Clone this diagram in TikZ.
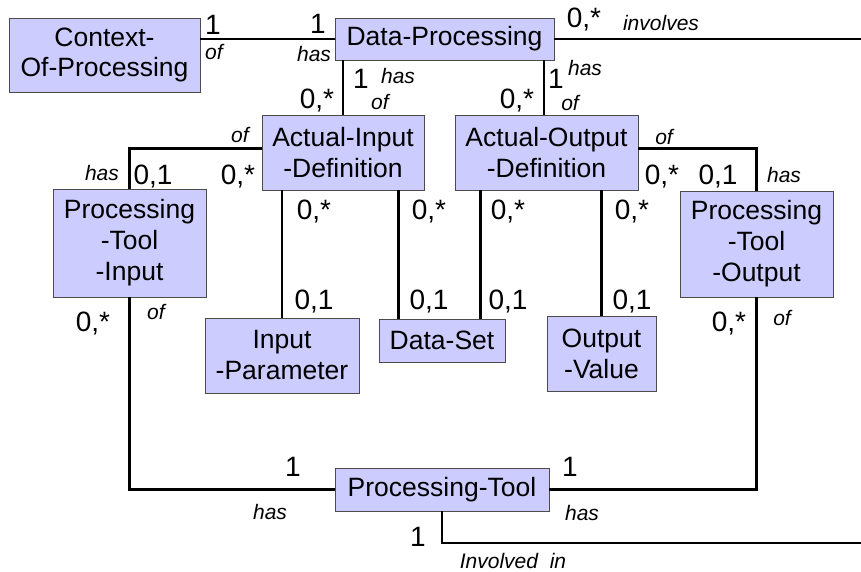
\documentclass[tikz,border=0pt]{standalone}
\usepackage{fontspec}
\setmainfont{Liberation Sans}
\usepackage{tikz}

\begin{document}
\begin{tikzpicture}[x=1pt,y=-1pt,
    entity/.style={draw=black!70,line width=0.8pt,fill=blue!20,inner sep=0pt,align=center,font=\fontsize{26.5}{31}\selectfont},
    link/.style={line width=2.6pt},
    mult/.style={inner sep=0pt,font=\fontsize{28}{30}\selectfont},
    role/.style={inner sep=0pt,font=\fontsize{21}{24}\selectfont\itshape}]
    \useasboundingbox (0,0) rectangle (861,572);
    %% the classes
    \node (cop) at (104.5,55)[entity,minimum width=191pt,minimum height=74pt]{Context-\\Of-Processing};
    \node (dp) at (444.5,39)[entity,minimum width=219pt,minimum height=42pt]{Data-Processing};
    \node (aid) at (343,152.5)[entity,minimum width=162pt,minimum height=75pt]{Actual-Input\\-Definition};
    \node (aod) at (546.5,152.5)[entity,minimum width=183pt,minimum height=75pt]{Actual-Output\\-Definition};
    \node (pti) at (129.5,243)[entity,minimum width=153pt,minimum height=108pt]{Processing\\-Tool\\-Input};
    \node (pto) at (756.5,244)[entity,minimum width=153pt,minimum height=106pt]{Processing\\-Tool\\-Output};
    \node (ip) at (282,355.5)[entity,minimum width=154pt,minimum height=75pt]{Input\\-Parameter};
    \node (ds) at (442,340.5)[entity,minimum width=126pt,minimum height=43pt]{Data-Set};
    \node (ov) at (601.5,353.5)[entity,minimum width=109pt,minimum height=75pt]{Output\\-Value};
    \node (pt) at (442,489.5)[entity,minimum width=214pt,minimum height=43pt]{Processing-Tool};

    %% the associations
    \coordinate (toright) at (861,39);
    \coordinate (tobottom) at (861,543);
    \coordinate (dsl) at ([xshift=20pt]ds.north west);
    \coordinate (dsr) at ([xshift=-25pt]ds.north east);
    \coordinate (aodt) at ([xshift=-2.5pt]aod.north);
    \draw[link] (dp.west) -- (dp.west -| cop.east);
    \draw[link] (dp.east) -- (toright);
    \draw[link] (aid.north) -- (aid.north |- dp.south);
    \draw[link] (aodt) -- (aodt |- dp.south);
    \draw[link] ([yshift=4pt]aid.west) -| (pti.north);
    \draw[link] ([yshift=4pt]aod.east) -| (pto.north);
    \draw[link] (ip.north) -- (ip.north |- aid.south);
    \draw[link] (dsl) -- (dsl |- aid.south);
    \draw[link] (dsr) -- (dsr |- aod.south);
    \draw[link] (ov.north) -- (ov.north |- aod.south);
    \draw[link] (pti.south) |- (pt.west);
    \draw[link] (pto.south) |- (pt.east);
    \draw[link] (pt.south) |- (tobottom);

    %% multiplicities
    \node (m-cop) at (213,25)[mult]{1};
    \node (m-dpl) at (318,24)[mult]{1};
    \node (m-dpr) at (584,20)[mult]{0,*};
    \node (m-dpa) at (361,79)[mult]{1};
    \node (m-aid) at (317,101)[mult]{0,*};
    \node (m-dpo) at (556,79)[mult]{1};
    \node (m-aod) at (517,101)[mult]{0,*};
    \node (m-pti) at (153,177)[mult]{0,1};
    \node (m-aidl) at (238,177)[mult]{0,*};
    \node (m-aodr) at (662,177)[mult]{0,*};
    \node (m-pto) at (718,177)[mult]{0,1};
    \foreach \x/\n in {314/ip,429/dsl,508/dsr,632/ov}{
      \node (m-\n-top) at (\x,212)[mult]{0,*};
      \node (m-\n-bot) at (\x,302)[mult]{0,1};
    }
    \node (m-ptil) at (93,324)[mult]{0,*};
    \node (m-ptor) at (729,324)[mult]{0,*};
    \node (m-ptl) at (293,467)[mult]{1};
    \node (m-ptr) at (570,467)[mult]{1};
    \node (m-ptb) at (418,537)[mult]{1};

    %% role names
    \node (r-cop) at (214,52)[role]{of};
    \node (r-dpl) at (314,54)[role]{has};
    \node (r-dpr) at (661,23)[role]{involves};
    \node (r-dpa) at (398,76)[role]{has};
    \node (r-aid) at (380,102)[role]{of};
    \node (r-dpo) at (585,68)[role]{has};
    \node (r-aod) at (570,103)[role]{of};
    \node (r-aidl) at (240,135)[role]{of};
    \node (r-pti) at (102,173)[role]{has};
    \node (r-aodr) at (664,137)[role]{of};
    \node (r-pto) at (784,175)[role]{has};
    \node (r-ptil) at (156,312)[role]{of};
    \node (r-ptor) at (782,318)[role]{of};
    \node (r-ptl) at (270,512)[role]{has};
    \node (r-ptr) at (582,513)[role]{has};
    \node (r-ptb) at (513,561)[role]{Involved\ \ in};
  \end{tikzpicture}
\end{document}
